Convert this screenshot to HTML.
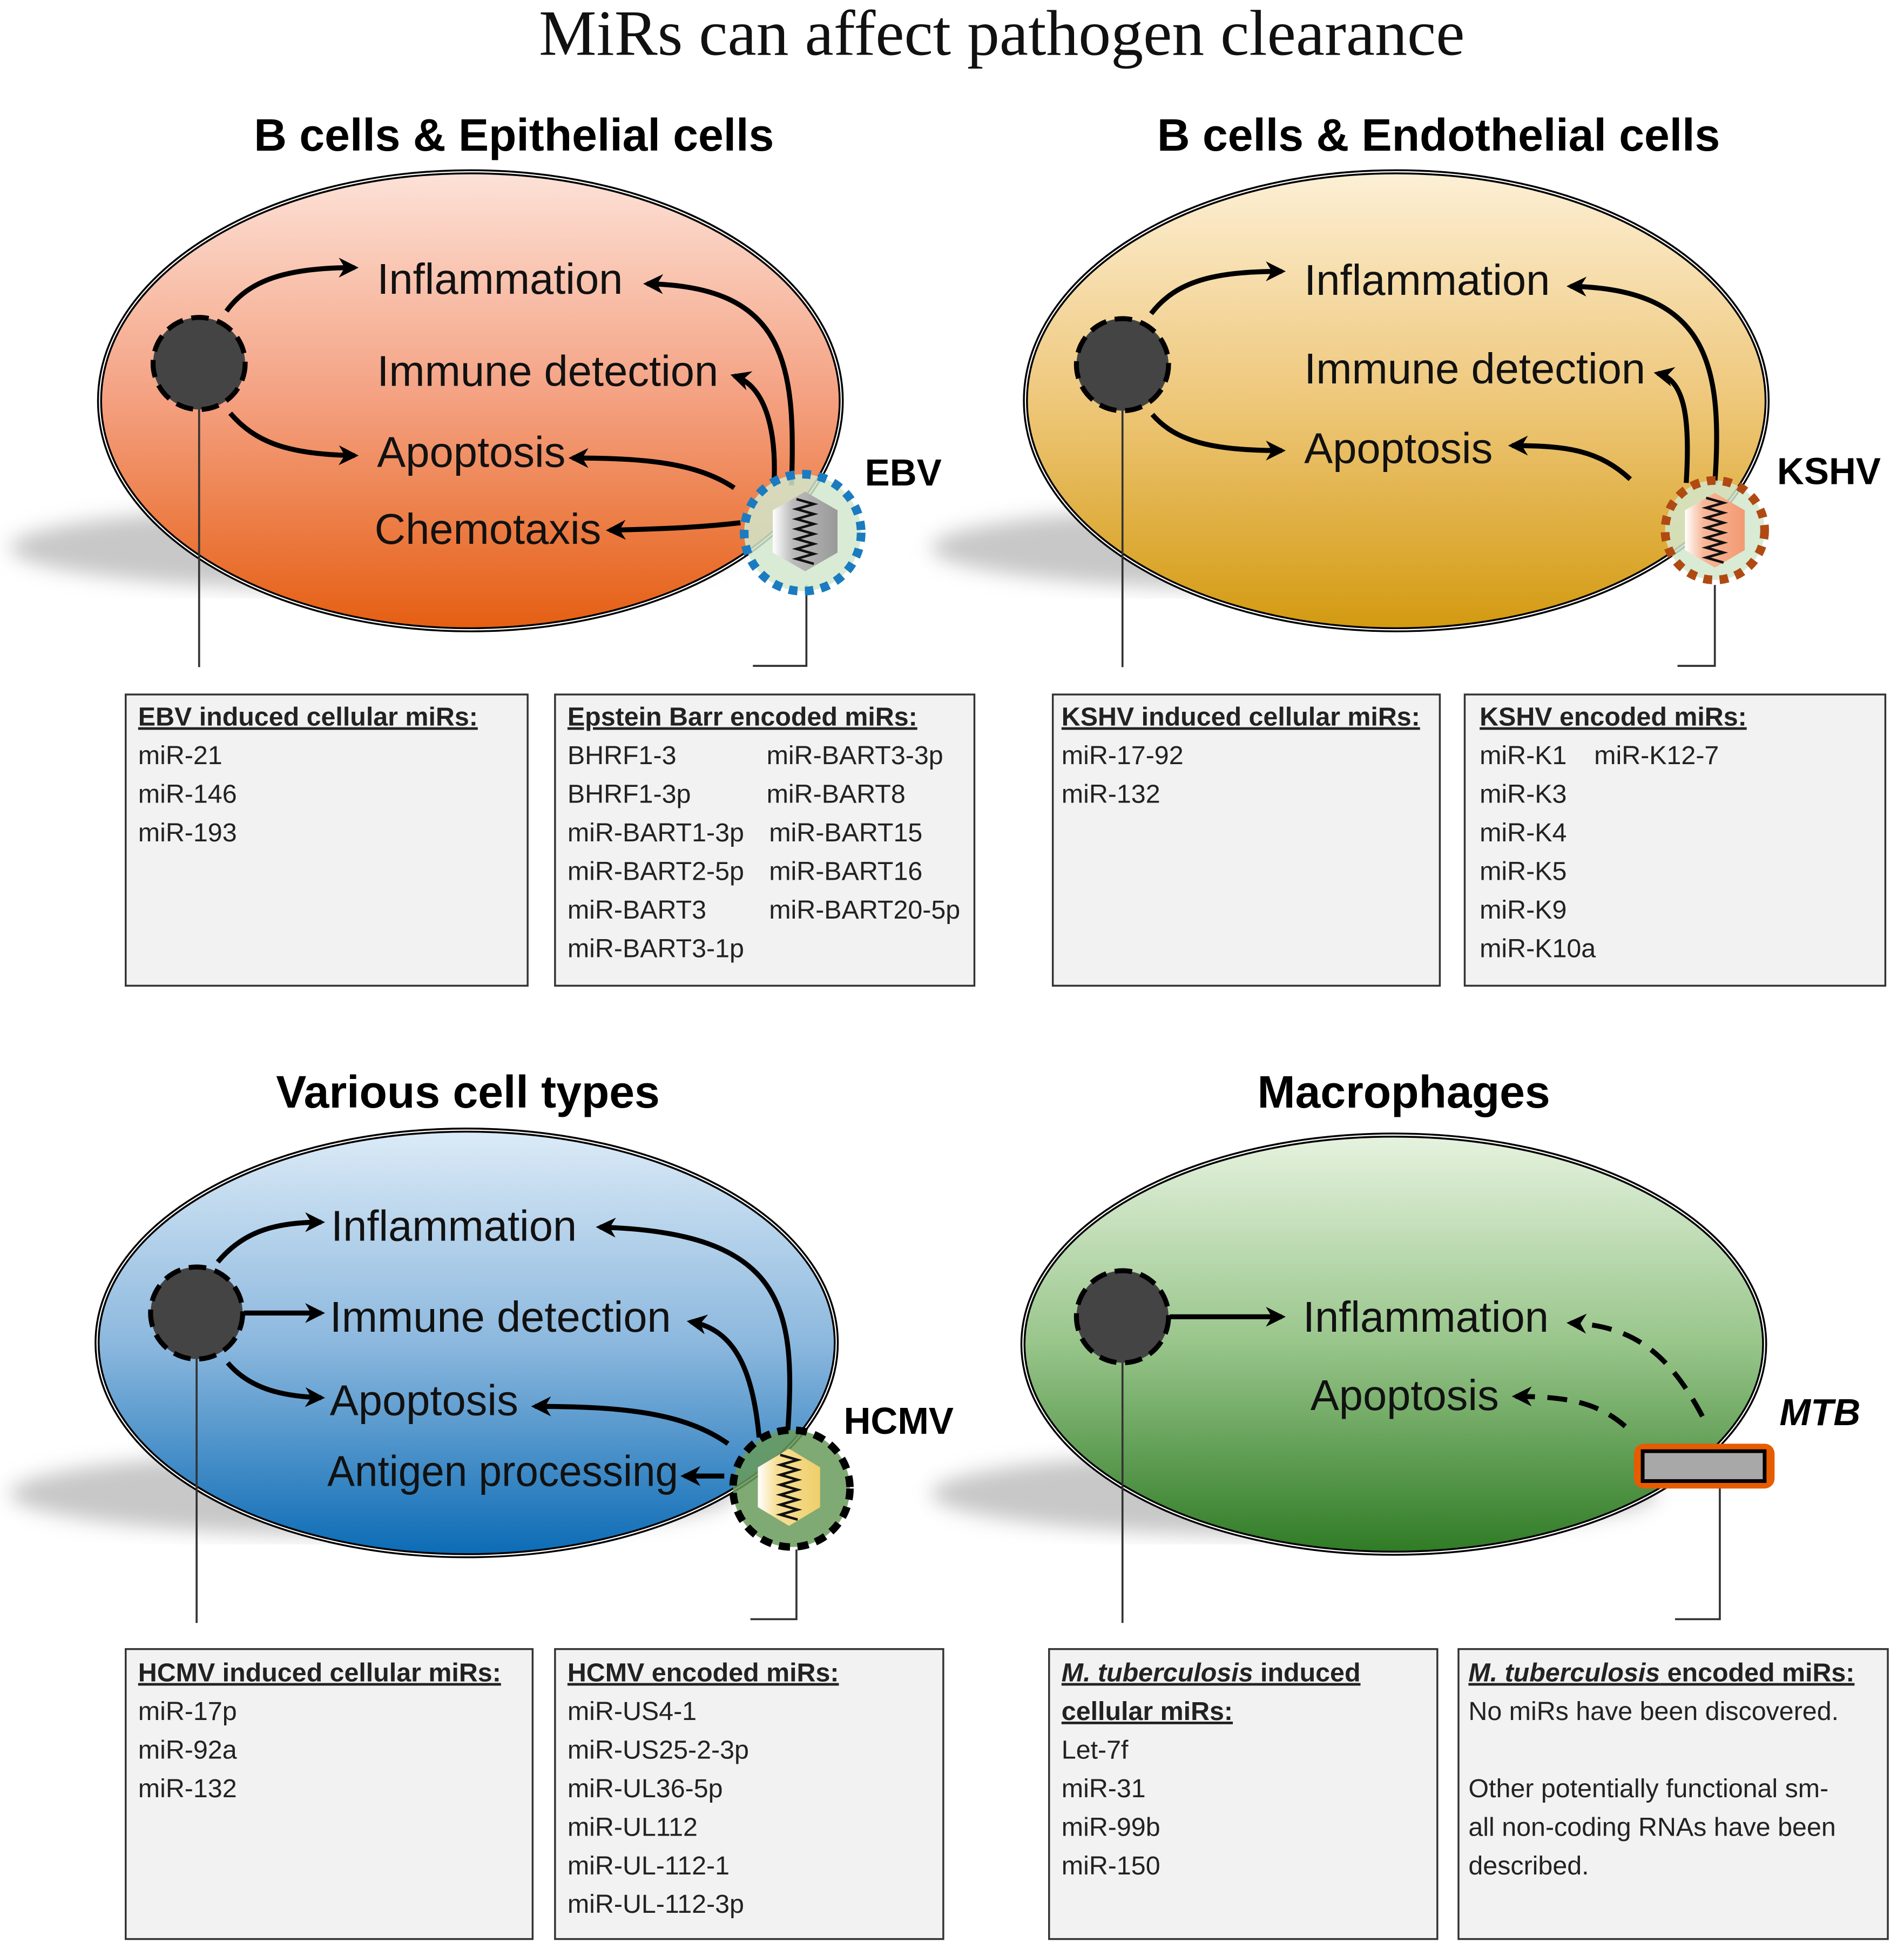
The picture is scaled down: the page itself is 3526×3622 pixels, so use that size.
<!DOCTYPE html>
<html><head><meta charset="utf-8"><style>
html,body{margin:0;padding:0;background:#fff;}
svg{display:block;}
text{font-family:"Liberation Sans",sans-serif;}
.t{font-size:34.5px;fill:#111;}
.h{font-size:36.5px;font-weight:bold;fill:#000;}
.b{font-size:21px;fill:#222;}
.bh{font-size:21px;font-weight:bold;fill:#222;text-decoration:underline;}
.box{fill:#f2f2f2;stroke:#333;stroke-width:1.5;}
.ar{fill:none;stroke:#000;stroke-width:4;marker-end:url(#ah);}
.ard{fill:none;stroke:#000;stroke-width:4;stroke-dasharray:16 10;marker-end:url(#ah);}
.ln{stroke:#333;stroke-width:1.6;fill:none;}
</style></head><body>
<svg width="3526" height="3622" viewBox="0 0 1530 1571.6" xmlns="http://www.w3.org/2000/svg">
<defs>
<marker id="ah" viewBox="0 0 10 10" refX="8" refY="5" markerWidth="4" markerHeight="4" orient="auto"><path d="M0,0 L10,5 L0,10 L3,5 z" fill="#000"/></marker>
<linearGradient id="gr" x1="0" y1="0" x2="0" y2="1"><stop offset="0" stop-color="#fde2d8"/><stop offset="0.5" stop-color="#f4a080"/><stop offset="1" stop-color="#e55e12"/></linearGradient>
<linearGradient id="go" x1="0" y1="0" x2="0" y2="1"><stop offset="0" stop-color="#fdf0d6"/><stop offset="0.5" stop-color="#eec77a"/><stop offset="1" stop-color="#d39a10"/></linearGradient>
<linearGradient id="gb" x1="0" y1="0" x2="0" y2="1"><stop offset="0" stop-color="#dcebf7"/><stop offset="0.5" stop-color="#8cb8de"/><stop offset="1" stop-color="#0b6bb5"/></linearGradient>
<linearGradient id="gg" x1="0" y1="0" x2="0" y2="1"><stop offset="0" stop-color="#e6f3df"/><stop offset="0.5" stop-color="#98c58a"/><stop offset="1" stop-color="#2f7b25"/></linearGradient>
<filter id="bl"><feGaussianBlur stdDeviation="8"/></filter>
<linearGradient id="hexg" x1="0" y1="0" x2="1" y2="0"><stop offset="0" stop-color="#fff"/><stop offset="0.3" stop-color="#bbb"/><stop offset="1" stop-color="#999"/></linearGradient>
<linearGradient id="hexo" x1="0" y1="0" x2="1" y2="0"><stop offset="0" stop-color="#fff"/><stop offset="0.3" stop-color="#f7b89a"/><stop offset="1" stop-color="#f29a72"/></linearGradient>
<linearGradient id="hexy" x1="0" y1="0" x2="1" y2="0"><stop offset="0" stop-color="#fff"/><stop offset="0.3" stop-color="#f7df96"/><stop offset="1" stop-color="#efcf6c"/></linearGradient>
<g id="zz"><path d="M-7,-26 L7,-22 L-7,-18 L7,-14 L-7,-10 L7,-6 L-7,-2 L7,2 L-7,6 L7,10 L-7,14 L7,18 L-7,22 L7,26" fill="none" stroke="#111" stroke-width="2"/></g>
</defs>

<text x="805" y="44" text-anchor="middle" style="font-family:'Liberation Serif',serif;font-size:52px;fill:#111">MiRs  can affect pathogen clearance</text>

<ellipse cx="300" cy="440" rx="292" ry="34" fill="#c8c8c8" filter="url(#bl)"/>
<ellipse cx="1040" cy="440" rx="292" ry="34" fill="#c8c8c8" filter="url(#bl)"/>
<ellipse cx="300" cy="1200" rx="292" ry="34" fill="#c8c8c8" filter="url(#bl)"/>
<ellipse cx="1040" cy="1200" rx="292" ry="34" fill="#c8c8c8" filter="url(#bl)"/>

<ellipse cx="378" cy="322" rx="298" ry="184" fill="url(#gr)" stroke="#000" stroke-width="4"/>
<ellipse cx="378" cy="322" rx="298" ry="184" fill="none" stroke="#fff" stroke-width="1"/>
<ellipse cx="1122" cy="322" rx="298" ry="184" fill="url(#go)" stroke="#000" stroke-width="4"/>
<ellipse cx="1122" cy="322" rx="298" ry="184" fill="none" stroke="#fff" stroke-width="1"/>
<ellipse cx="375" cy="1079" rx="297" ry="171" fill="url(#gb)" stroke="#000" stroke-width="4"/>
<ellipse cx="375" cy="1079" rx="297" ry="171" fill="none" stroke="#fff" stroke-width="1"/>
<ellipse cx="1120" cy="1080" rx="298" ry="168" fill="url(#gg)" stroke="#000" stroke-width="4"/>
<ellipse cx="1120" cy="1080" rx="298" ry="168" fill="none" stroke="#fff" stroke-width="1"/>

<text class="h" x="413" y="121" text-anchor="middle">B cells &amp; Epithelial cells</text>
<text class="h" x="1156" y="121" text-anchor="middle">B cells &amp; Endothelial cells</text>
<text class="h" x="376" y="890" text-anchor="middle">Various cell types</text>
<text class="h" x="1128" y="890" text-anchor="middle">Macrophages</text>

<path class="ln" d="M160,292 V536"/>
<path class="ln" d="M648,470 V535 H605"/>
<path class="ln" d="M902,293 V536"/>
<path class="ln" d="M1378,470 V535 H1348"/>
<path class="ln" d="M158,1055 V1304"/>
<path class="ln" d="M640,1245 V1301 H603"/>
<path class="ln" d="M902,1058 V1304"/>
<path class="ln" d="M1382,1195 V1301 H1346"/>

<circle cx="160" cy="292" r="37" fill="#444" stroke="#000" stroke-width="4" stroke-dasharray="14 7"/>
<path class="ar" d="M182,250 C200,225 230,215 285,215"/>
<path class="ar" d="M185,332 C205,355 230,365 285,366"/>
<text class="t" x="303" y="236">Inflammation</text>
<text class="t" x="303" y="310">Immune detection</text>
<text class="t" x="303" y="375">Apoptosis</text>
<text class="t" x="301" y="437">Chemotaxis</text>
<path class="ar" d="M636,390 C640,290 630,230 520,228"/>
<path class="ar" d="M622,388 C624,345 615,310 590,302"/>
<path class="ar" d="M590,392 C560,372 520,368 460,368"/>
<path class="ar" d="M595,420 C560,424 530,425 490,426"/>
<circle cx="645" cy="428" r="47" fill="#d2e8cc" fill-opacity="0.85" stroke="#1a7bc0" stroke-width="7" stroke-dasharray="7 6"/>
<polygon points="647,395 673,410 673,444 647,459 621,444 621,410" fill="url(#hexg)"/>
<use href="#zz" x="647" y="427"/>
<text x="695" y="390" style="font-size:30px;font-weight:bold">EBV</text>

<circle cx="902" cy="293" r="37" fill="#444" stroke="#000" stroke-width="4" stroke-dasharray="14 7"/>
<path class="ar" d="M925,252 C945,226 975,218 1030,218"/>
<path class="ar" d="M926,333 C945,355 975,362 1030,362"/>
<text class="t" x="1048" y="237">Inflammation</text>
<text class="t" x="1048" y="308">Immune detection</text>
<text class="t" x="1048" y="372">Apoptosis</text>
<path class="ar" d="M1378,388 C1385,290 1370,232 1262,230"/>
<path class="ar" d="M1355,388 C1358,340 1355,305 1332,300"/>
<path class="ar" d="M1310,385 C1285,362 1260,358 1215,358"/>
<circle cx="1378" cy="426" r="40" fill="#d2e8cc" fill-opacity="0.85" stroke="#b04a12" stroke-width="7" stroke-dasharray="7 6"/>
<polygon points="1378,396 1402,410 1402,442 1378,456 1354,442 1354,410" fill="url(#hexo)"/>
<use href="#zz" x="1378" y="426"/>
<text x="1428" y="389" style="font-size:30px;font-weight:bold">KSHV</text>

<circle cx="158" cy="1055" r="37" fill="#444" stroke="#000" stroke-width="4" stroke-dasharray="14 7"/>
<path class="ar" d="M175,1014 C195,990 220,982 258,982"/>
<path class="ar" d="M196,1055 L258,1055"/>
<path class="ar" d="M183,1095 C200,1115 225,1122 258,1123"/>
<text class="t" x="266" y="997">Inflammation</text>
<text class="t" x="265" y="1070">Immune detection</text>
<text class="t" x="265" y="1137">Apoptosis</text>
<text class="t" x="263" y="1194" textLength="282" lengthAdjust="spacingAndGlyphs">Antigen processing</text>
<path class="ar" d="M633,1150 C640,1050 630,990 482,986"/>
<path class="ar" d="M610,1155 C605,1100 590,1068 555,1062"/>
<path class="ar" d="M585,1160 C550,1135 500,1130 430,1130"/>
<path class="ar" d="M582,1186 L550,1186"/>
<circle cx="636" cy="1196" r="47" fill="#6a9b5a" fill-opacity="0.85" stroke="#000" stroke-width="6" stroke-dasharray="9 6"/>
<polygon points="634,1164 659,1179 659,1211 634,1226 609,1211 609,1179" fill="url(#hexy)"/>
<use href="#zz" x="634" y="1195"/>
<text x="678" y="1152" style="font-size:30px;font-weight:bold">HCMV</text>

<circle cx="902" cy="1058" r="37" fill="#444" stroke="#000" stroke-width="4" stroke-dasharray="14 7"/>
<path class="ar" d="M940,1058 L1030,1058"/>
<text class="t" x="1047" y="1070">Inflammation</text>
<text class="t" x="1053" y="1133">Apoptosis</text>
<path class="ard" d="M1368,1138 C1340,1085 1310,1065 1262,1063"/>
<path class="ard" d="M1306,1146 C1285,1128 1262,1122 1218,1122"/>
<rect x="1313" y="1160" width="113" height="36" rx="8" fill="#e65c00"/>
<rect x="1320" y="1166" width="98" height="24" fill="#a8a8a8" stroke="#000" stroke-width="3"/>
<text x="1430" y="1145" style="font-size:30px;font-weight:bold;font-style:italic">MTB</text>

<rect class="box" x="101" y="558" width="323" height="234"/>
<text class="bh" x="111" y="583">EBV induced cellular miRs:</text>
<text class="b" x="111" y="614">miR-21</text>
<text class="b" x="111" y="645">miR-146</text>
<text class="b" x="111" y="676">miR-193</text>

<rect class="box" x="446" y="558" width="337" height="234"/>
<text class="bh" x="456" y="583">Epstein Barr encoded miRs:</text>
<text class="b" x="456" y="614">BHRF1-3</text>
<text class="b" x="456" y="645">BHRF1-3p</text>
<text class="b" x="456" y="676">miR-BART1-3p</text>
<text class="b" x="456" y="707">miR-BART2-5p</text>
<text class="b" x="456" y="738">miR-BART3</text>
<text class="b" x="456" y="769">miR-BART3-1p</text>
<text class="b" x="616" y="614">miR-BART3-3p</text>
<text class="b" x="616" y="645">miR-BART8</text>
<text class="b" x="618" y="676">miR-BART15</text>
<text class="b" x="618" y="707">miR-BART16</text>
<text class="b" x="618" y="738">miR-BART20-5p</text>

<rect class="box" x="846" y="558" width="311" height="234"/>
<text class="bh" x="853" y="583">KSHV induced cellular miRs:</text>
<text class="b" x="853" y="614">miR-17-92</text>
<text class="b" x="853" y="645">miR-132</text>

<rect class="box" x="1177" y="558" width="338" height="234"/>
<text class="bh" x="1189" y="583">KSHV encoded miRs:</text>
<text class="b" x="1189" y="614">miR-K1</text>
<text class="b" x="1281" y="614">miR-K12-7</text>
<text class="b" x="1189" y="645">miR-K3</text>
<text class="b" x="1189" y="676">miR-K4</text>
<text class="b" x="1189" y="707">miR-K5</text>
<text class="b" x="1189" y="738">miR-K9</text>
<text class="b" x="1189" y="769">miR-K10a</text>

<rect class="box" x="101" y="1325" width="327" height="233"/>
<text class="bh" x="111" y="1351">HCMV induced cellular miRs:</text>
<text class="b" x="111" y="1382">miR-17p</text>
<text class="b" x="111" y="1413">miR-92a</text>
<text class="b" x="111" y="1444">miR-132</text>

<rect class="box" x="446" y="1325" width="312" height="233"/>
<text class="bh" x="456" y="1351">HCMV encoded miRs:</text>
<text class="b" x="456" y="1382">miR-US4-1</text>
<text class="b" x="456" y="1413">miR-US25-2-3p</text>
<text class="b" x="456" y="1444">miR-UL36-5p</text>
<text class="b" x="456" y="1475">miR-UL112</text>
<text class="b" x="456" y="1506">miR-UL-112-1</text>
<text class="b" x="456" y="1537">miR-UL-112-3p</text>

<rect class="box" x="843" y="1325" width="312" height="233"/>
<text class="bh" x="853" y="1351"><tspan font-style="italic">M. tuberculosis</tspan> induced</text>
<text class="bh" x="853" y="1382">cellular miRs:</text>
<text class="b" x="853" y="1413">Let-7f</text>
<text class="b" x="853" y="1444">miR-31</text>
<text class="b" x="853" y="1475">miR-99b</text>
<text class="b" x="853" y="1506">miR-150</text>

<rect class="box" x="1172" y="1325" width="345" height="233"/>
<text class="bh" x="1180" y="1351"><tspan font-style="italic">M. tuberculosis</tspan> encoded miRs:</text>
<text class="b" x="1180" y="1382">No miRs have been discovered.</text>
<text class="b" x="1180" y="1444">Other potentially functional sm-</text>
<text class="b" x="1180" y="1475">all non-coding RNAs have been</text>
<text class="b" x="1180" y="1506">described.</text>
</svg>
</body></html>
